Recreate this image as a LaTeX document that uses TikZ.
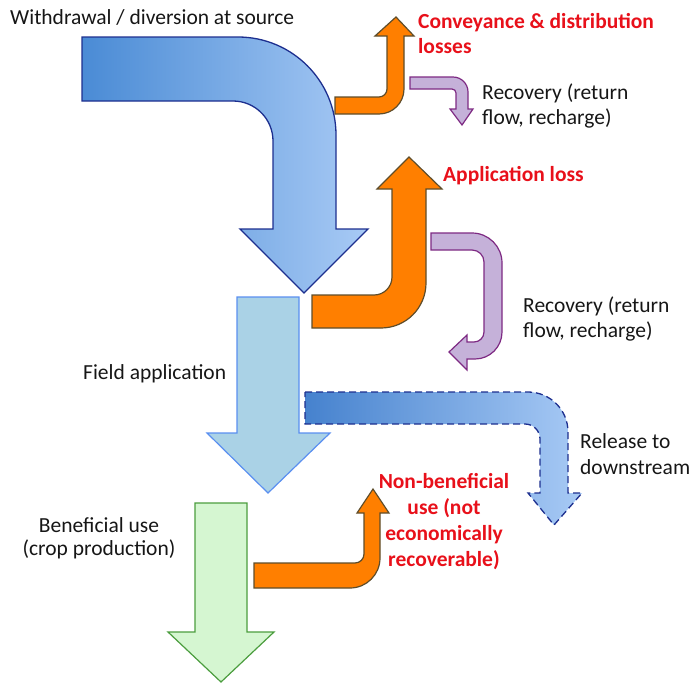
\documentclass[tikz,border=0pt]{standalone}
\usepackage{fontspec}
\setmainfont{Carlito}
\definecolor{navy}{HTML}{1D2F8F}
\definecolor{bluedk}{HTML}{4A8BD5}
\definecolor{bluelt}{HTML}{A8CAF5}
\definecolor{orangef}{HTML}{FF7F00}
\definecolor{oranged}{HTML}{5E4D2B}
\definecolor{purplef}{HTML}{C5B1D9}
\definecolor{purpled}{HTML}{7E2A83}
\definecolor{fieldf}{HTML}{AAD2E6}
\definecolor{fieldd}{HTML}{5A8FF0}
\definecolor{greenf}{HTML}{D5F6D1}
\definecolor{greend}{HTML}{4B9D3E}
\definecolor{lossred}{HTML}{E8101A}
\definecolor{txt}{HTML}{161616}
\tikzset{
  lbl/.style={font=\fontsize{21.5}{25.5}\selectfont, text=txt, inner sep=0pt},
  losslbl/.style={font=\fontsize{21.5}{25.5}\selectfont\bfseries, text=lossred, inner sep=0pt},
  bluearrow/.style={draw=navy, line width=1.3pt, line join=miter, left color=bluedk, right color=bluelt},
  orangearrow/.style={draw=oranged, line width=1.2pt, fill=orangef},
  purplearrow/.style={draw=purpled, line width=1.2pt, fill=purplef},
  fieldarrow/.style={draw=fieldd, line width=1.2pt, fill=fieldf},
  greenarrow/.style={draw=greend, line width=1.2pt, fill=greenf},
  dasharrow/.style={draw=navy, line width=1.3pt, dash pattern=on 7pt off 4pt, left color=bluedk!90!navy, right color=bluelt}
}
\begin{document}
\begin{tikzpicture}[x=1pt,y=-1pt]
\useasboundingbox (0,0) rectangle (693,683);
% big withdrawal arrow
\path[bluearrow] (82,37) -- (238,37) arc[start angle=270,end angle=360,radius=98]
  -- (336,229) -- (368,229) -- (304,293) -- (240,229) -- (273,229) -- (273,141)
  arc[start angle=0,end angle=-90,radius=40] -- (82,101) -- cycle;
% orange 1
\path[orangearrow] (335,97) -- (379,97) arc[start angle=90,end angle=0,radius=8]
  -- (387,36) -- (375,36) -- (396,17) -- (414,36) -- (404,36) -- (404,89)
  arc[start angle=0,end angle=90,radius=25] -- (335,114) -- cycle;
% purple 1
\path[purplearrow] (410,77) -- (453,77) arc[start angle=270,end angle=360,radius=15]
  -- (468,109) -- (473,109) -- (462,125) -- (450,109) -- (456,109) -- (456,93)
  arc[start angle=0,end angle=-90,radius=4] -- (410,89) -- cycle;
% orange 2
\path[orangearrow] (312,295) -- (374,295) arc[start angle=90,end angle=0,radius=18]
  -- (392,189) -- (377,189) -- (409,157) -- (442,189) -- (426,189) -- (426,283)
  arc[start angle=0,end angle=90,radius=45] -- (312,328) -- cycle;
% purple 2
\path[purplearrow] (431,233) -- (472,233) arc[start angle=270,end angle=360,radius=30]
  -- (502,332) arc[start angle=0,end angle=90,radius=27]
  -- (467,359) -- (467,370) -- (449,352) -- (467,335) -- (467,342) -- (474,342)
  arc[start angle=90,end angle=0,radius=10] -- (484,262)
  arc[start angle=0,end angle=-90,radius=12] -- (431,250) -- cycle;
% field application arrow
\path[fieldarrow] (237,297) -- (299,297) -- (299,433) -- (330,433) -- (268,493)
  -- (207,433) -- (237,433) -- cycle;
% dashed release arrow
\path[dasharrow] (305,392) -- (528,392) arc[start angle=270,end angle=360,radius=40]
  -- (568,493) -- (582,493) -- (554,525) -- (528,493) -- (540,493) -- (540,439)
  arc[start angle=0,end angle=-90,radius=15] -- (305,424) -- cycle;
% green beneficial arrow
\path[greenarrow] (195,503) -- (247,503) -- (247,632) -- (274,632) -- (221,682)
  -- (168,632) -- (195,632) -- cycle;
% orange 3
\path[orangearrow] (254,563) -- (355,563) arc[start angle=90,end angle=0,radius=9]
  -- (364,513) -- (357,513) -- (373,489) -- (389,513) -- (380,513) -- (380,558)
  arc[start angle=0,end angle=90,radius=30] -- (254,588) -- cycle;
% labels
\node[lbl, anchor=base west] (src) at (10,24) {Withdrawal / diversion at source};
\node[losslbl, anchor=base west] (conv1) at (418,28) {Conveyance \& distribution};
\node[losslbl, anchor=base west] (conv2) at (418,53) {losses};
\node[lbl, anchor=base west] (rec1a) at (482,99) {Recovery (return};
\node[lbl, anchor=base west] (rec1b) at (482,124) {flow, recharge)};
\node[losslbl, anchor=base west] (app) at (443,181) {Application loss};
\node[lbl, anchor=base west] (rec2a) at (523,312) {Recovery (return};
\node[lbl, anchor=base west] (rec2b) at (523,337) {flow, recharge)};
\node[lbl, anchor=base west] (field) at (83,379) {Field application};
\node[lbl, anchor=base west] (rel1) at (580,448) {Release to};
\node[lbl, anchor=base west] (rel2) at (580,474) {downstream};
\node[lbl, anchor=base] (ben1) at (99,532) {Beneficial use};
\node[lbl, anchor=base] (ben2) at (99,555) {(crop production)};
\node[losslbl, anchor=base] (nb1) at (444,488) {Non-beneficial};
\node[losslbl, anchor=base] (nb2) at (444,514) {use (not};
\node[losslbl, anchor=base] (nb3) at (444,540) {economically};
\node[losslbl, anchor=base] (nb4) at (444,566) {recoverable)};
\end{tikzpicture}
\end{document}
